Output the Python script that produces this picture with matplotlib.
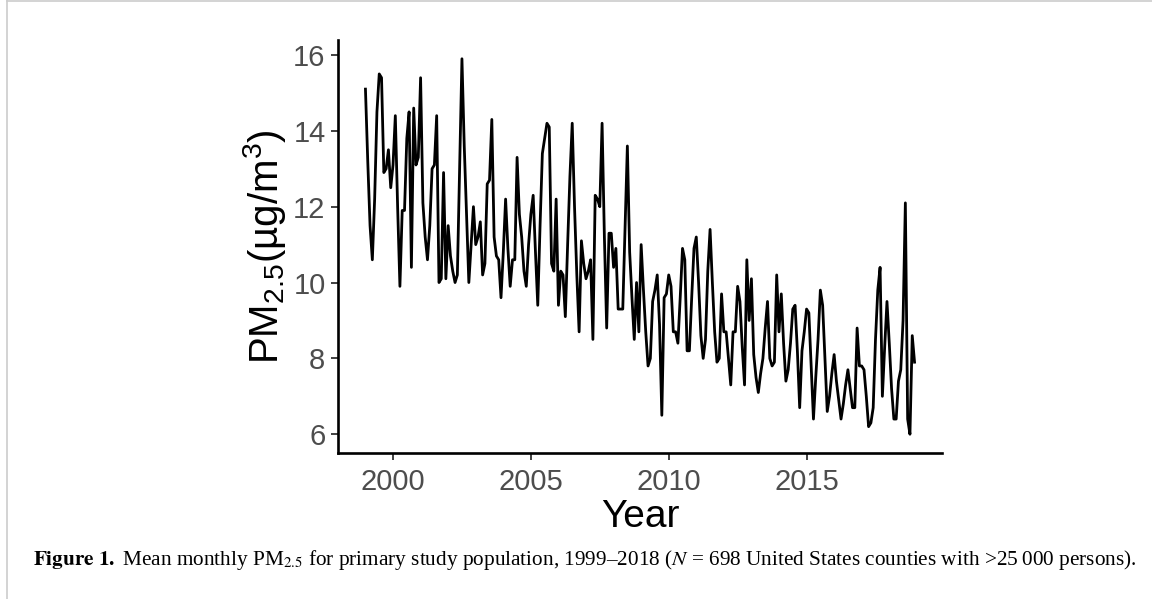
import numpy as np
import matplotlib
matplotlib.use("Agg")
import matplotlib.pyplot as plt
from matplotlib.lines import Line2D

# mean monthly PM2.5 (ug/m3), Jan..Dec for each year
pm_1999 = [15.1, 13.2, 11.5, 10.6, 12.2, 14.5, 15.5, 15.4, 12.9, 13.0, 13.5, 12.5]
pm_2000 = [13.1, 14.4, 12.0, 9.9, 11.9, 11.9, 13.8, 14.5, 10.4, 14.6, 13.1, 13.3]
pm_2001 = [15.4, 12.1, 11.2, 10.6, 11.5, 13.0, 13.1, 14.4, 10.0, 10.1, 12.9, 10.1]
pm_2002 = [11.5, 10.7, 10.3, 10.0, 10.2, 13.0, 15.9, 13.6, 11.8, 10.0, 11.0, 12.0]
pm_2003 = [11.0, 11.2, 11.6, 10.2, 10.5, 12.6, 12.7, 14.3, 11.2, 10.7, 10.6, 9.6]
pm_2004 = [10.8, 12.2, 10.9, 9.9, 10.6, 10.6, 13.3, 11.8, 11.2, 10.3, 9.9, 11.0]
pm_2005 = [11.8, 12.3, 10.8, 9.4, 11.5, 13.4, 13.8, 14.2, 14.1, 10.5, 10.3, 12.2]
pm_2006 = [9.4, 10.3, 10.2, 9.1, 11.0, 12.8, 14.2, 12.0, 10.2, 8.7, 11.1, 10.5]
pm_2007 = [10.1, 10.3, 10.6, 8.5, 12.3, 12.2, 12.0, 14.2, 11.2, 8.8, 11.3, 11.3]
pm_2008 = [10.4, 10.9, 9.3, 9.3, 9.3, 11.5, 13.6, 10.8, 9.6, 8.5, 10.0, 8.7]
pm_2009 = [11.0, 9.8, 8.7, 7.8, 8.0, 9.5, 9.8, 10.2, 8.9, 6.5, 9.6, 9.7]
pm_2010 = [10.2, 9.9, 8.7, 8.7, 8.4, 9.6, 10.9, 10.6, 8.2, 8.2, 9.6, 10.9]
pm_2011 = [11.2, 10.0, 8.6, 8.0, 8.5, 10.3, 11.4, 10.0, 8.7, 7.9, 8.0, 9.7]
pm_2012 = [8.7, 8.7, 8.0, 7.3, 8.7, 8.7, 9.9, 9.5, 8.3, 7.3, 10.6, 9.0]
pm_2013 = [10.1, 8.1, 7.5, 7.1, 7.6, 8.0, 8.8, 9.5, 8.0, 7.8, 7.9, 10.2]
pm_2014 = [8.7, 9.7, 8.4, 7.4, 7.7, 8.4, 9.3, 9.4, 8.2, 6.7, 8.2, 8.7]
pm_2015 = [9.3, 9.2, 7.8, 6.4, 7.5, 8.5, 9.8, 9.4, 8.0, 6.6, 7.0, 7.6]
pm_2016 = [8.1, 7.4, 6.9, 6.4, 6.8, 7.3, 7.7, 7.2, 6.7, 6.7, 8.8, 7.8]
pm_2017 = [7.8, 7.7, 7.0, 6.2, 6.3, 6.7, 8.5, 9.8, 10.4, 7.0, 8.3, 9.5]
pm_2018 = [8.4, 7.2, 6.4, 6.4, 7.4, 7.7, 9.0, 12.1, 6.4, 6.0, 8.6, 7.9]

years = list(range(1999, 2019))
x_ticks = [2000, 2005, 2010, 2015]
y_ticks = [6, 8, 10, 12, 14, 16]

pm = np.concatenate([pm_1999, pm_2000, pm_2001, pm_2002, pm_2003, pm_2004,
                     pm_2005, pm_2006, pm_2007, pm_2008, pm_2009, pm_2010,
                     pm_2011, pm_2012, pm_2013, pm_2014, pm_2015, pm_2016,
                     pm_2017, pm_2018])
t = np.array([y + m / 12 for y in years for m in range(12)])

plt.rcParams['mathtext.fontset'] = 'custom'
plt.rcParams['mathtext.rm'] = 'Liberation Sans'
plt.rcParams['mathtext.it'] = 'Liberation Sans:italic'

fig = plt.figure(figsize=(11.52, 5.99), dpi=100)
ax = fig.add_axes([338 / 1152, 1 - 453 / 599, 604 / 1152, 413 / 599])

ax.plot(t, pm, color='black', lw=2.0, solid_joinstyle='round')

# ggplot-like 5% expansion
xr = t.max() - t.min()
yr = pm.max() - pm.min()
ax.set_xlim(t.min() - 0.05 * xr, t.max() + 0.05 * xr)
ax.set_ylim(pm.min() - 0.05 * yr, pm.max() + 0.05 * yr)

ax.set_xticks(x_ticks)
ax.set_yticks(y_ticks)
for s in ['top', 'right']:
    ax.spines[s].set_visible(False)
for s in ['left', 'bottom']:
    ax.spines[s].set_linewidth(1.9)
    ax.spines[s].set_color('black')
ax.tick_params(axis='both', length=5, width=1.3, color='#333333',
               labelcolor='#4D4D4D', labelsize=21)
ax.tick_params(axis='x', pad=6)
ax.tick_params(axis='y', pad=4)
for lab in ax.get_xticklabels() + ax.get_yticklabels():
    lab.set_family('Liberation Sans')

ax.set_xlabel('Year', fontsize=28, family='Liberation Sans', labelpad=2)
ax.set_ylabel('PM$_{2.5}$(\u00b5g/m$^{3}$)', fontsize=29,
              family='Liberation Sans', labelpad=4)

fig.text(33 / 1152, 1 - 560 / 599,
         r'$\bf{Figure\ 1.\ }$Mean monthly PM$_{2.5}$ for primary study population, '
         '1999\u20132018 ($\\it{N}$ = 698 United States counties with >25\u2009000 persons).',
         family=['Liberation Serif', 'DejaVu Serif'], fontsize=15.3, va='center', ha='left',
         math_fontfamily='stix')

# page frame lines
fig.add_artist(Line2D([7 / 1152, 7 / 1152], [0, 1], color='#cccccc', lw=1.2))
fig.add_artist(Line2D([7 / 1152, 1], [0.998, 0.998], color='#cccccc', lw=1.2))

fig.savefig('out.png', dpi=100)
